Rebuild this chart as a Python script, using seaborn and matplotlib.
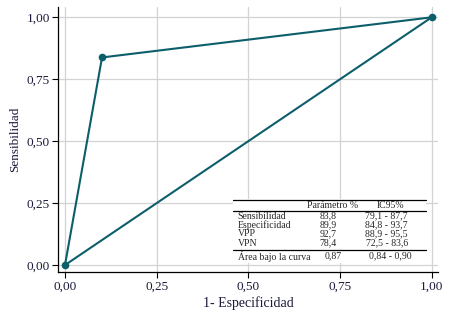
import numpy as np
import pandas as pd
import matplotlib
matplotlib.use('Agg')
import matplotlib.pyplot as plt
import seaborn as sns
from matplotlib.patches import Rectangle

# ROC data
fpr = [0.0, 0.101, 1.0]
tpr = [0.0, 0.838, 1.0]
diag_x = [0.0, 1.0]
diag_y = [0.0, 1.0]
ticks = [0.0, 0.25, 0.5, 0.75, 1.0]
tick_labels = ['0,00', '0,25', '0,50', '0,75', '1,00']

# table data
row_names = ['Sensibilidad', 'Especificidad', 'VPP', 'VPN']
param_vals = ['83,8', '89,9', '92,7', '78,4']
ic_vals = ['79,1 - 87,7', '84,8 - 93,7', '88,9 - 95,5', '72,5 - 83,6']
auc_label = 'Área bajo la curva'
auc_val = '0,87'
auc_ic = '0,84 - 0,90'

sns.set_style('white')
plt.rcParams['font.family'] = ['Liberation Serif', 'DejaVu Serif']
teal = '#0d5e6b'
txt = '#1a1a3a'

fig = plt.figure(figsize=(4.55, 3.15), dpi=100)
ax = fig.add_axes([0.1275, 0.1365, 0.835, 0.84])

ax.grid(True, color='#d3d3d3', linewidth=0.9)
ax.set_axisbelow(True)

df_roc = pd.DataFrame({'x': fpr, 'y': tpr})
sns.lineplot(data=df_roc, x='x', y='y', sort=False, color=teal, linewidth=1.5,
             marker='o', markersize=5.5, markeredgewidth=0, ax=ax, zorder=3)
sns.lineplot(x=diag_x, y=diag_y, sort=False, color=teal, linewidth=1.5, ax=ax, zorder=3)

ax.set_xlim(-0.019, 1.017)
ax.set_ylim(-0.028, 1.04)
ax.set_xticks(ticks)
ax.set_xticklabels(tick_labels)
ax.set_yticks(ticks)
ax.set_yticklabels(tick_labels)
ax.tick_params(axis='both', direction='out', length=4, width=0.8, labelsize=9.5,
               labelcolor=txt, color='black', bottom=True, left=True, pad=2)
for s in ['top', 'right']:
    ax.spines[s].set_visible(False)
for s in ['left', 'bottom']:
    ax.spines[s].set_color('black')
    ax.spines[s].set_linewidth(0.9)
ax.set_xlabel('1- Especificidad', fontsize=10, color=txt, labelpad=3)
ax.set_ylabel('Sensibilidad', fontsize=9.5, color=txt, labelpad=4)

# summary table
x0, x1 = 0.458, 0.984
ax.add_patch(Rectangle((x0, 0.01), x1 - x0, 0.255, facecolor='white',
                       edgecolor='none', zorder=4))
for yl in [0.263, 0.219, 0.061]:
    ax.plot([x0, x1], [yl, yl], color='black', linewidth=0.9, zorder=5)
fs = 7
ax.text(0.730, 0.240, 'Parámetro %', ha='center', va='center', fontsize=fs, zorder=6)
ax.text(0.888, 0.240, 'IC95%', ha='center', va='center', fontsize=fs, zorder=6)
row_y = [0.198, 0.162, 0.126, 0.089]
for name, pv, ic, yy in zip(row_names, param_vals, ic_vals, row_y):
    ax.text(0.471, yy, name, ha='left', va='center', fontsize=fs, zorder=6)
    ax.text(0.717, yy, pv, ha='center', va='center', fontsize=fs, zorder=6)
    ax.text(0.877, yy, ic, ha='center', va='center', fontsize=fs, zorder=6)
ax.text(0.471, 0.036, auc_label, ha='left', va='center', fontsize=fs, zorder=6)
ax.text(0.730, 0.036, auc_val, ha='center', va='center', fontsize=fs, zorder=6)
ax.text(0.888, 0.036, auc_ic, ha='center', va='center', fontsize=fs, zorder=6)

fig.savefig('out.png', dpi=100)
